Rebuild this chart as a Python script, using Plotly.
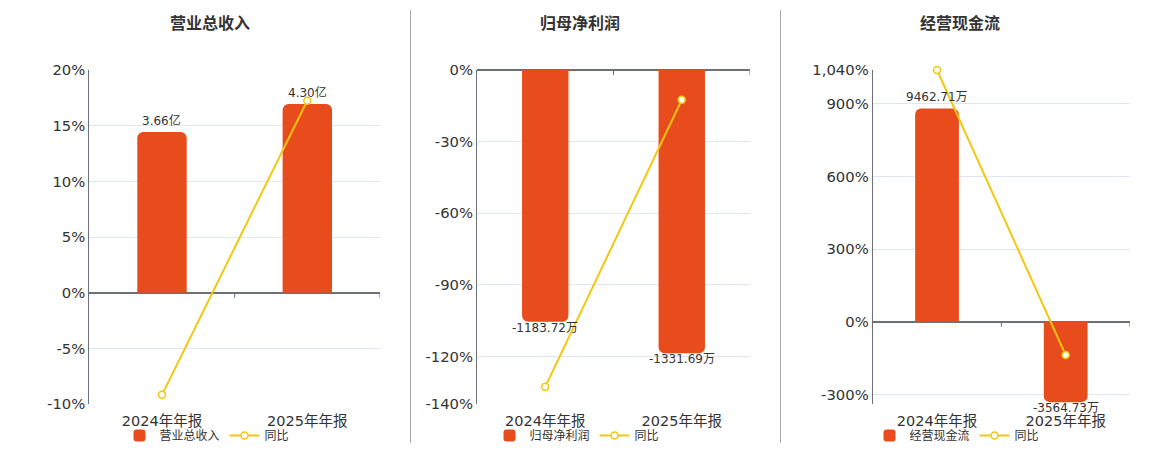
import plotly.graph_objects as go

categories = ["2024年年报", "2025年年报"]

titles = ["营业总收入", "归母净利润", "经营现金流"]

# bar values (revenue in 亿, others in 万)
revenue = [3.66, 4.30]
revenue_text = ["3.66亿", "4.30亿"]
net_profit = [-1183.72, -1331.69]
net_profit_text = ["-1183.72万", "-1331.69万"]
cash_flow = [9462.71, -3564.73]
cash_flow_text = ["9462.71万", "-3564.73万"]

# YoY growth (%)
revenue_yoy = [-9.15, 17.25]
net_profit_yoy = [-132.7, -12.5]
cash_flow_yoy = [1040.0, -137.7]

# percent axis ticks
p1_ticks = [-10, -5, 0, 5, 10, 15, 20]
p1_text = ["-10%", "-5%", "0%", "5%", "10%", "15%", "20%"]
p2_ticks = [-140, -120, -90, -60, -30, 0]
p2_text = ["-140%", "-120%", "-90%", "-60%", "-30%", "0%"]
p3_ticks = [-341, -300, 0, 300, 600, 900, 1040]
p3_text = ["", "-300%", "0%", "300%", "600%", "900%", "1,040%"]

p_ranges = [[-10, 20], [-140, 0], [-341, 1040]]

BAR = "#E84B1C"
LINE = "#F2C80F"
GRID = "#E0E6F1"
AXIS = "#6E7079"
TXT = "#333333"
FONT = "Verdana, DejaVu Sans, Noto Sans CJK SC, sans-serif"

W, H = 1160, 450
x_domains = [[89.3 / W, 380 / W], [477 / W, 750 / W], [872.7 / W, 1130 / W]]
y_domain = [1 - 404.3 / H, 1 - 70 / H]
title_x = [210 / W, 580 / W, 960 / W]

panels = [
    (revenue, revenue_text, revenue_yoy, p1_ticks, p1_text),
    (net_profit, net_profit_text, net_profit_yoy, p2_ticks, p2_text),
    (cash_flow, cash_flow_text, cash_flow_yoy, p3_ticks, p3_text),
]

fig = go.Figure()
layout = dict(
    width=W, height=H,
    margin=dict(l=0, r=0, t=0, b=0, pad=0, autoexpand=False),
    paper_bgcolor="white", plot_bgcolor="white",
    font=dict(family=FONT, color=TXT, size=12),
    showlegend=True,
)

for i, (vals, txt, yoy, tv, tt) in enumerate(panels):
    n = i + 1
    xname = "x" if n == 1 else f"x{n}"
    yb = 2 * i + 1
    yp = 2 * i + 2
    ybname = "y" if yb == 1 else f"y{yb}"
    ypname = f"y{yp}"
    legname = "legend" if n == 1 else f"legend{n}"

    fig.add_trace(go.Bar(
        x=categories, y=vals,
        marker=dict(color=BAR, cornerradius=6, line=dict(width=0)),
        width=0.34, name=titles[i], xaxis=xname, yaxis=ybname,
        legend=legname, hoverinfo="skip",
    ))
    fig.add_trace(go.Scatter(
        x=categories, y=yoy, mode="lines+markers", name="同比",
        line=dict(color=LINE, width=2),
        marker=dict(symbol="circle", size=7, color="white",
                    line=dict(color=LINE, width=1.5)),
        xaxis=xname, yaxis=ypname, legend=legname, cliponaxis=False,
        hoverinfo="skip",
    ))

    # value labels at bar ends
    for c, v, t in zip(categories, vals, txt):
        fig.add_annotation(
            x=c, y=v, xref=xname, yref=ybname, text=t, showarrow=False,
            xanchor="center", yanchor="bottom" if v >= 0 else "top",
            yshift=2 if v >= 0 else 3,
            font=dict(size=12, color=TXT, family=FONT),
        )

    # category boundary ticks on the zero line
    for bpos in [k + 0.5 for k in range(len(categories))]:
        fig.add_shape(
            type="line", xref=xname, yref=ybname, x0=bpos, x1=bpos,
            ysizemode="pixel", yanchor=0, y0=0, y1=-5,
            line=dict(color=AXIS, width=1),
        )

    # bar scale aligned with percent-axis zero
    pr = p_ranges[i]
    if pr[1] > 0:
        btop = 1.18 * max(vals)
        bbot = btop * pr[0] / pr[1]
    else:
        btop = 0
        bbot = 1.18 * min(vals)

    layout["xaxis" if n == 1 else f"xaxis{n}"] = dict(
        domain=x_domains[i], anchor=ybname, type="category",
        showgrid=False, showline=False, zeroline=False, ticks="",
        automargin=False, ticklabelstandoff=6,
        tickfont=dict(size=14.5, color=TXT, family=FONT),
        range=[-0.5, 1.5],
    )
    layout["yaxis" if yb == 1 else f"yaxis{yb}"] = dict(
        domain=y_domain, anchor=xname, range=[bbot, btop],
        visible=False, showgrid=False, zeroline=False, automargin=False,
    )
    layout[f"yaxis{yp}"] = dict(
        domain=y_domain, anchor=xname, overlaying=ybname, side="left",
        range=pr, tickvals=tv, ticktext=tt, automargin=False,
        showgrid=True, gridcolor=GRID, gridwidth=1,
        zeroline=True, zerolinecolor=AXIS, zerolinewidth=2,
        showline=True, linecolor=AXIS, linewidth=1, ticks="",
        tickfont=dict(size=14.8, color=TXT, family=FONT),
    )
    layout[legname] = dict(
        orientation="h", x=title_x[i] - 3 / W, y=0.0,
        xanchor="center", yanchor="bottom",
        font=dict(size=12, color=TXT, family=FONT),
        bgcolor="rgba(0,0,0,0)", itemclick=False, itemdoubleclick=False,
        tracegroupgap=0,
    )

fig.update_layout(**layout)

for i, t in enumerate(titles):
    fig.add_annotation(
        text=f"<b>{t}</b>", x=title_x[i], y=1 - 22 / H,
        xref="paper", yref="paper", showarrow=False,
        font=dict(size=16, color=TXT, family="Noto Sans CJK SC, sans-serif"),
        xanchor="center", yanchor="middle",
    )

for sx in [410.5 / W, 780.5 / W]:
    fig.add_shape(type="line", xref="paper", yref="paper",
                  x0=sx, x1=sx, y0=1 - 443 / H, y1=1 - 10 / H,
                  line=dict(color="#A8A8A8", width=1))

fig.write_html("out.html", config={"displayModeBar": False},
               post_script="document.body.style.margin='0px';document.body.style.overflow='hidden';")
